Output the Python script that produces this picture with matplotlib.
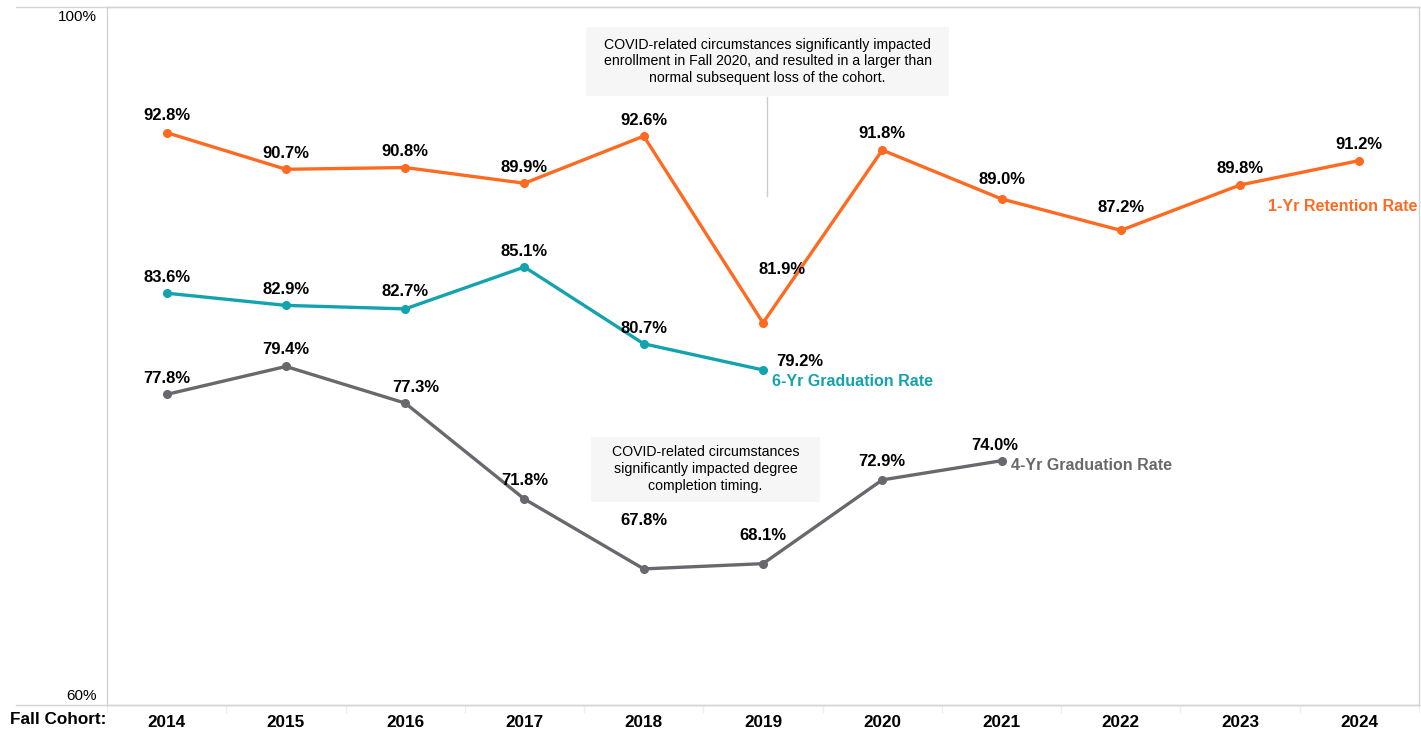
import matplotlib
matplotlib.use('Agg')
import matplotlib.pyplot as plt
import matplotlib.transforms as mtransforms
from matplotlib.patches import Rectangle

plt.rcParams['font.family'] = ['Liberation Sans', 'DejaVu Sans']

# Data
years = ["2014", "2015", "2016", "2017", "2018", "2019",
         "2020", "2021", "2022", "2023", "2024"]
retention_1yr = [92.8, 90.7, 90.8, 89.9, 92.6, 81.9, 91.8, 89.0, 87.2, 89.8, 91.2]
grad_6yr = [83.6, 82.9, 82.7, 85.1, 80.7, 79.2]
grad_4yr = [77.8, 79.4, 77.3, 71.8, 67.8, 68.1, 72.9, 74.0]

# label offsets in pixels (dx, dy)
off_1yr = [(0, 17), (0, 16), (0, 16), (0, 16), (0, 16), (19, 53),
           (0, 17), (0, 19), (0, 23), (0, 16), (0, 16)]
off_6yr = [(0, 16), (0, 16), (0, 17), (0, 16), (0, 15), (37, 8)]
off_4yr = [(0, 16), (0, 17), (11, 16), (0, 19), (0, 48), (0, 28), (0, 18), (-7, 15)]

orange = '#FF6A21'
teal = '#12A3AE'
grey = '#68686E'
frame = '#D3D3D3'

fig = plt.figure(figsize=(14.21, 7.30), dpi=100)
W, H = 1421, 730
ax = fig.add_axes([107 / W, 25 / H, 1312 / W, 698 / H])
ax.set_xlim(-0.5, 10.5)
ax.set_ylim(60, 100)

series = [
    (retention_1yr, orange, off_1yr, "1-Yr Retention Rate", (-91, -46)),
    (grad_6yr, teal, off_6yr, "6-Yr Graduation Rate", (9, -12)),
    (grad_4yr, grey, off_4yr, "4-Yr Graduation Rate", (9, -5)),
]

for vals, col, offs, name, name_off in series:
    xs = list(range(len(vals)))
    ax.plot(xs, vals, color=col, lw=2.4, marker='o', ms=5.5, zorder=3)
    for x, v, (dx, dy) in zip(xs, vals, offs):
        ax.annotate(f"{v:.1f}%", (x, v), xytext=(dx, dy), textcoords='offset pixels',
                    ha='center', va='center', fontsize=12, fontweight='bold',
                    color='black')
    ax.annotate(name, (xs[-1], vals[-1]), xytext=name_off, textcoords='offset pixels',
                ha='left', va='center', fontsize=11.5, fontweight='bold', color=col)

# annotation boxes
ax.add_patch(Rectangle((3.512, 94.9), 3.051, 3.95, facecolor='#F6F6F6',
                       edgecolor='none', zorder=1))
ax.text(5.038, 96.88, "COVID-related circumstances significantly impacted\n"
        "enrollment in Fall 2020, and resulted in a larger than\n"
        "normal subsequent loss of the cohort.",
        ha='center', va='center', fontsize=10.2, linespacing=1.25, zorder=2)
ax.plot([5.03, 5.03], [94.84, 89.17], color='#CCCCCC', lw=1, zorder=1)

ax.add_patch(Rectangle((3.562, 71.63), 1.92, 3.73, facecolor='#F6F6F6',
                       edgecolor='none', zorder=1))
ax.text(4.518, 73.52, "COVID-related circumstances\nsignificantly impacted degree\n"
        "completion timing.",
        ha='center', va='center', fontsize=10.2, linespacing=1.25, zorder=2)

# frame
for s in ax.spines.values():
    s.set_color(frame)
    s.set_linewidth(1)
ext = -91 / 1312
ax.plot([ext, 1], [1, 1], transform=ax.transAxes, color=frame, lw=1, clip_on=False)
ax.plot([ext, 1], [0, 0], transform=ax.transAxes, color=frame, lw=1, clip_on=False)

# y labels
ax.set_yticks([])
bt = mtransforms.blended_transform_factory(ax.transAxes, ax.transData)
ax.annotate("100%", (-10 / 1312, 100), xycoords=bt, xytext=(0, -3),
            textcoords='offset pixels', ha='right', va='top', fontsize=11)
ax.annotate("60%", (-10 / 1312, 60), xycoords=bt, xytext=(0, 2),
            textcoords='offset pixels', ha='right', va='bottom', fontsize=11)

# x axis
ax.set_xticks(range(len(years)))
ax.set_xticklabels(years, fontsize=12.3, fontweight='bold')
ax.tick_params(axis='x', length=0, pad=7)
ax.set_xticks([i - 0.5 for i in range(len(years) + 1)], minor=True)
ax.tick_params(axis='x', which='minor', length=6, color='#EEEEEE', width=1)
fig.text(10 / W, 1 - 720 / H, "Fall Cohort:", ha='left', va='center',
         fontsize=12.3, fontweight='bold')

fig.savefig('out.png', dpi=100)
